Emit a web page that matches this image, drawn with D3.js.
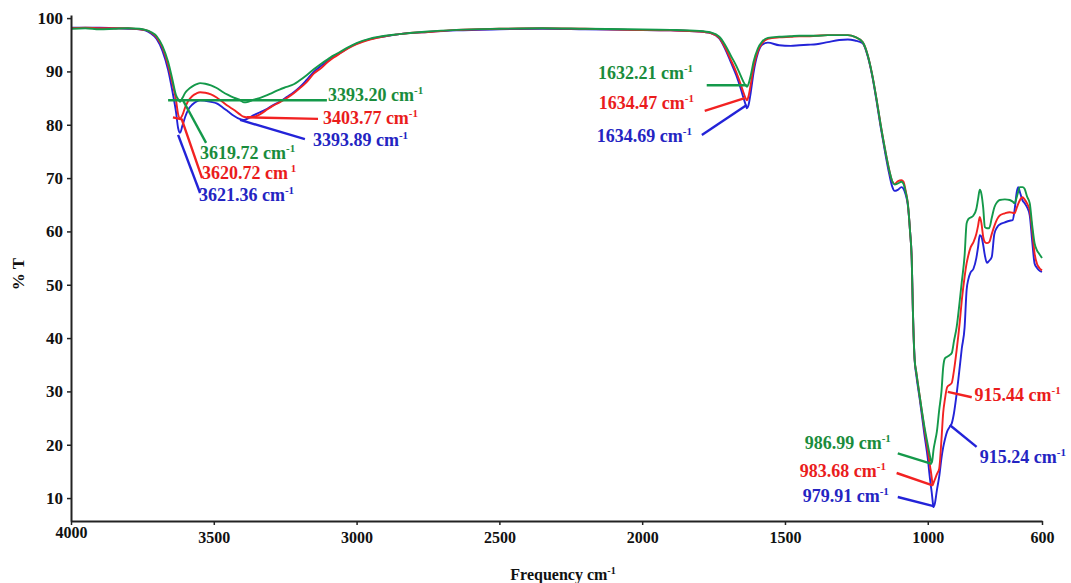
<!DOCTYPE html>
<html>
<head>
<meta charset="utf-8">
<script src="https://cdn.jsdelivr.net/npm/d3@7"></script>
<style>
  html, body { margin: 0; padding: 0; background: #fff; }
  svg { display: block; }
  text { font-family: "Liberation Serif", "Times New Roman", serif; font-weight: bold; }
</style>
</head>
<body>
<svg id="chart" width="1071" height="583"></svg>
<script>
// ---- data ----
const wavenumbers = [4000,3950,3900,3850,3800,3760,3740,3720,3700,3680,3660,3645,3632,3625,3618,3610,3600,3590,3575,3560,3548,3530,3510,3490,3470,3450,3430,3410,3395,3380,3360,3340,3320,3295,3270,3245,3220,3200,3175,3150,3125,3100,3080,3060,3030,3000,2950,2900,2850,2750,2650,2500,2350,2200,2050,1900,1800,1760,1730,1710,1690,1670,1655,1645,1638,1633,1628,1620,1610,1595,1580,1560,1520,1480,1450,1420,1390,1350,1310,1280,1255,1228,1210,1195,1180,1165,1150,1135,1125,1116,1105,1092,1085,1078,1070,1062,1056,1052,1046,1040,1028,1012,1000,992,986,983,980,975,968,960,952,946,940,932,924,916,908,899,888,881,871,864,858,850,840,830,824,818,812,806,800,793,785,776,767,757,748,730,713,703,696,688,683,678,668,661,652,643,634,626,618,610,600];

const tGreen = [98.0,98.1,97.9,98.0,98.1,98.0,97.8,97.4,96.6,94.8,91.8,88.5,85.5,84.8,84.3,85.0,86.0,86.6,87.2,87.6,87.8,87.7,87.4,86.9,86.2,85.6,85.1,84.7,84.2,84.3,84.7,85.0,85.4,86.0,86.6,87.1,87.6,88.3,89.3,90.4,91.4,92.3,93.0,93.6,94.5,95.3,96.2,96.7,97.0,97.5,97.8,98.0,98.1,98.0,97.9,97.8,97.6,97.3,96.5,95.0,93.0,91.0,89.2,88.0,87.4,87.1,87.6,89.2,91.8,94.3,95.6,96.3,96.5,96.6,96.7,96.7,96.7,96.8,96.8,96.8,96.5,95.5,93.0,89.5,85.0,80.0,75.5,71.5,69.5,68.8,69.0,69.3,68.9,67.5,65.3,60.0,54.5,45.0,36.0,33.5,29.0,23.5,20.0,17.8,16.6,17.5,19.0,20.5,22.5,26.5,30.0,34.5,36.2,36.5,36.8,37.2,39.5,42.0,47.0,50.5,55.5,61.5,62.3,62.6,63.0,64.2,66.0,67.8,67.0,64.5,60.8,60.6,60.6,62.5,64.5,65.5,65.9,66.0,65.9,65.6,65.3,66.5,67.5,68.3,68.3,68.0,66.5,65.3,61.0,57.8,56.5,55.8,55.0];

const tRed = [98.1,98.2,98.1,98.1,98.1,97.9,97.8,97.3,96.4,94.5,91.2,87.8,84.5,82.0,81.2,81.8,83.3,84.4,85.4,85.9,86.1,86.0,85.7,85.1,84.3,83.5,82.8,82.0,81.5,81.4,81.5,81.9,82.6,83.5,84.2,85.0,85.9,86.8,88.0,89.6,90.6,91.8,92.6,93.3,94.3,95.1,96.0,96.6,97.0,97.4,97.8,98.0,98.1,98.0,97.8,97.7,97.5,97.2,96.3,94.5,92.2,89.8,87.6,86.0,85.0,84.6,85.3,87.5,90.8,93.8,95.3,96.1,96.4,96.5,96.6,96.6,96.7,96.8,96.8,96.8,96.5,95.5,93.0,89.5,85.0,80.0,75.5,71.5,69.5,68.9,69.4,69.6,69.3,67.8,65.3,60.0,54.5,45.0,36.0,33.5,29.0,23.0,19.0,16.0,13.8,12.4,12.8,13.5,14.5,15.5,21.0,26.0,28.5,30.8,31.2,31.6,34.0,37.7,43.0,47.0,51.5,54.0,55.5,57.0,58.0,59.5,61.0,62.7,61.5,59.0,58.0,57.8,58.0,59.5,61.0,62.3,63.0,63.4,63.6,63.5,63.4,64.5,65.2,65.8,66.4,66.0,65.2,64.0,60.0,55.9,54.0,53.2,52.7];

const tBlue = [98.2,98.2,98.2,98.1,98.0,97.9,97.7,97.1,96.1,93.9,90.3,86.3,82.3,79.4,78.5,79.8,81.5,82.8,83.8,84.4,84.6,84.5,84.3,84.0,83.3,82.5,81.7,81.1,80.9,81.2,81.8,82.3,82.8,83.6,84.3,85.2,86.1,87.0,88.4,89.9,91.0,92.0,92.8,93.4,94.4,95.2,96.1,96.6,97.0,97.4,97.7,97.9,98.0,97.9,97.8,97.7,97.5,97.2,96.2,94.3,91.8,89.2,86.8,85.0,83.8,83.1,83.6,86.0,89.8,93.4,95.0,95.4,94.9,94.8,94.9,95.0,95.1,95.5,95.9,96.0,95.8,95.3,92.8,89.3,84.7,79.6,75.0,70.8,68.5,67.6,67.8,68.3,68.0,67.0,65.0,60.0,54.5,45.0,36.0,33.0,28.5,22.0,17.5,13.5,11.0,9.5,8.3,9.0,11.5,14.0,17.5,19.5,21.0,22.5,23.3,24.0,26.0,29.5,34.6,38.0,42.0,49.0,51.0,52.3,53.0,55.0,57.0,59.3,59.0,57.5,55.5,54.1,54.5,55.2,59.5,60.8,61.3,61.7,62.0,62.1,64.0,67.5,68.3,67.5,65.8,65.3,64.5,63.0,58.0,54.0,53.2,52.7,52.4];

const xTicks = [4000,3500,3000,2500,2000,1500,1000,600];
const yTicks = [10,20,30,40,50,60,70,80,90,100];

const seriesNames = ["blue","red","green"];

// annotation values: peak label, leader path points (wavenumber, %T) and label anchor
const annLabels  = ["3393.20","3403.77","3393.89","3619.72","3620.72","3621.36","1632.21","1634.47","1634.69","986.99","983.68","979.91","915.44","915.24"];
const annSeries  = ["green","red","blue","green","red","blue","green","red","blue","green","red","blue","red","blue"];
const annSup     = ["-1","-1","-1","-1","\u00a01","-1","-1","-1","-1","-1","-1","-1","-1","-1"];
const annLeaders = [
  [[3660,84.6],[3104,84.6]],
  [[3384,81.4],[3135,81.1]],
  [[3408,80.9],[3181,77.3]],
  [[3608,84.6],[3527,76.6]],
  [[3643,81.4],[3612,81.0],[3541,70.0]],
  [[3625,78.1],[3548,67.2]],
  [[1774,87.4],[1634,87.4]],
  [[1781,82.6],[1641,85.0]],
  [[1791,78.1],[1634,83.7]],
  [[1105,18.4],[986,16.4]],
  [[1109,14.7],[983,12.4]],
  [[1105,10.2],[980,8.5]],
  [[930,29.9],[846,28.9]],
  [[923,23.7],[829,19.6]]
];
const annAnchor = [
  [3100,84.4],[3118,80.1],[3153,76.0],
  [3548,73.5],[3541,69.8],[3552,65.7],
  [2155,88.6],[2152,82.9],[2159,76.8],
  [1431,19.2],[1448,13.9],[1438,9.3],
  [836,28.2],[818,16.6]
];

// ---- drawing ----
const lineColor  = {green:"#14994a", red:"#f22222", blue:"#2323d8"};
const labelColor = {green:"#1a8c3c", red:"#ea1c1c", blue:"#2424c2"};
const seriesData = {green:tGreen, red:tRed, blue:tBlue};

const svg = d3.select("#chart");
const x = d3.scaleLinear().domain([4000,600]).range([71,1042]);
const y = d3.scaleLinear().domain([5.7,100.6]).range([521,14.9]);

// curves
const line = d3.line().x(d => x(d[0])).y(d => y(d[1])).curve(d3.curveMonotoneX);
seriesNames.forEach(name => {
  const pts = wavenumbers.map((w,i) => [w, seriesData[name][i]]);
  svg.append("path").datum(pts)
    .attr("d", line)
    .attr("fill","none")
    .attr("stroke", lineColor[name])
    .attr("stroke-width", 1.9)
    .attr("stroke-linejoin","round");
});

// axes
const yAxis = d3.axisLeft(y).tickValues(yTicks).tickSize(4).tickSizeOuter(0).tickPadding(4).tickFormat(d3.format("d"));
const gy = svg.append("g").attr("transform","translate(71,0)").call(yAxis);
gy.selectAll("text").attr("font-size",17).attr("fill","#111").attr("font-family",null);
gy.select(".domain").attr("stroke","#222").attr("stroke-width",2);
gy.selectAll(".tick line").attr("stroke","#222").attr("stroke-width",1.5);

const xAxis = d3.axisBottom(x).tickValues(xTicks).tickSize(4).tickSizeOuter(0).tickPadding(7).tickFormat(d3.format("d"));
const gx = svg.append("g").attr("transform","translate(0,521)").call(xAxis);
gx.selectAll("text").attr("font-size",16).attr("fill","#111").attr("font-family",null)
  .attr("dy", d => d === 4000 ? "0.4em" : "0.71em");
gx.select(".domain").attr("stroke","#222").attr("stroke-width",2);
gx.selectAll(".tick line").attr("stroke","#222").attr("stroke-width",1.5);
svg.selectAll(".tick text").style("font-family",'"Liberation Serif", serif').style("font-weight","bold");

// axis titles
const xt = svg.append("text").attr("x",563).attr("y",580).attr("text-anchor","middle")
  .attr("font-size",16).attr("fill","#111");
xt.append("tspan").text("Frequency cm");
xt.append("tspan").attr("font-size",10).attr("dy",-6).text("-1");

svg.append("text").attr("transform","translate(24,274) rotate(-90)")
  .attr("text-anchor","middle").attr("font-size",17).attr("fill","#111").text("% T");

// annotations
const leader = d3.line().x(d => x(d[0])).y(d => y(d[1]));
annLabels.forEach((lab,i) => {
  const s = annSeries[i];
  svg.append("path").datum(annLeaders[i]).attr("d", leader)
    .attr("fill","none").attr("stroke", lineColor[s]).attr("stroke-width",2.4);
  const t = svg.append("text")
    .attr("x", x(annAnchor[i][0])).attr("y", y(annAnchor[i][1]))
    .attr("font-size",18).attr("fill", labelColor[s]);
  t.append("tspan").text(lab + " cm");
  t.append("tspan").attr("font-size",11).attr("dy",-7).text(annSup[i]);
});
</script>
</body>
</html>
